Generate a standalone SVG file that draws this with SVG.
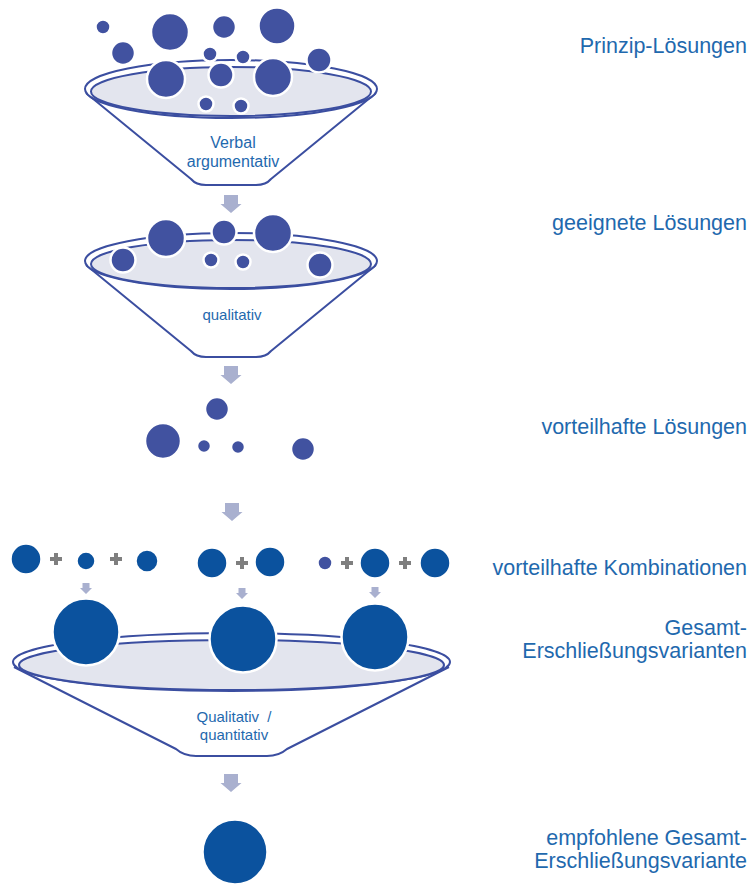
<svg xmlns="http://www.w3.org/2000/svg" width="753" height="887" viewBox="0 0 753 887">
<style>
.bg{fill:#ffffff}
.cone{fill:#ffffff;stroke:#3b4ea0;stroke-width:2;stroke-linejoin:round}
.rimo{fill:#ffffff;stroke:#3b4ea0;stroke-width:2}
.rimi{fill:#e3e5ee;stroke:#3b4ea0;stroke-width:2}
.b{fill:#4152a0;stroke:#ffffff;stroke-width:2.5}
.d{fill:#0b529e;stroke:#ffffff;stroke-width:2.5}
.ft{font-family:"Liberation Sans",Arial,sans-serif;font-size:15px;fill:#1f69ae;text-anchor:middle}
.ft16{font-size:16px}
.lb{font-family:"Liberation Sans",Arial,sans-serif;font-size:21.5px;fill:#1f69ae;text-anchor:end}
.ar{fill:#a9b0cf}
.pl{fill:#7f7f7f}
</style>
<defs>
<path id="bigArrow" d="M -7,0 L 7,0 L 7,9 L 10.5,9 L 0,18 L -10.5,9 L -7,9 Z"/>
<path id="smallArrow" d="M -3.5,0 L 3.5,0 L 3.5,5 L 6,5 L 0,11 L -6,5 L -3.5,5 Z"/>
<path id="plus" d="M -2,-6 L 2,-6 L 2,-2 L 6,-2 L 6,2 L 2,2 L 2,6 L -2,6 L -2,2 L -6,2 L -6,-2 L -2,-2 Z"/>
</defs>
<rect class="bg" x="0" y="0" width="753" height="887"/>

<g id="funnel1">
<path class="cone" d="M 86,93 L 191,179 Q 196,185 206,185 L 256,185 Q 266,185 271,179 L 376,93"/>
<ellipse class="rimo" cx="231" cy="89" rx="146" ry="29"/>
<ellipse class="rimi" cx="231" cy="91.5" rx="140" ry="24.5"/>
<text class="ft ft16" x="233" y="148">Verbal</text>
<text class="ft ft16" x="233" y="167">argumentativ</text>
</g>

<g id="prinzip-loesungen">
<circle class="b" cx="103" cy="27" r="7.5"/>
<circle class="b" cx="170" cy="32" r="19"/>
<circle class="b" cx="224" cy="27" r="12"/>
<circle class="b" cx="277" cy="26" r="18.5"/>
<circle class="b" cx="123" cy="53" r="12"/>
<circle class="b" cx="210" cy="54" r="7.5"/>
<circle class="b" cx="243" cy="57" r="7.5"/>
<circle class="b" cx="319" cy="60" r="12.5"/>
<circle class="b" cx="166" cy="79" r="19"/>
<circle class="b" cx="221" cy="75" r="12.5"/>
<circle class="b" cx="273" cy="77" r="19"/>
<circle class="b" cx="206" cy="104" r="7.5"/>
<circle class="b" cx="241" cy="106" r="7.5"/>
</g>

<g id="funnel2">
<path class="cone" d="M 86,265 L 191,351 Q 196,357 206,357 L 256,357 Q 266,357 271,351 L 376,265"/>
<ellipse class="rimo" cx="231" cy="261" rx="146" ry="28"/>
<ellipse class="rimi" cx="231" cy="264" rx="140" ry="24"/>
<text class="ft" x="232" y="320">qualitativ</text>
</g>

<g id="geeignete-loesungen">
<circle class="b" cx="166" cy="238" r="19"/>
<circle class="b" cx="224" cy="232" r="12.5"/>
<circle class="b" cx="273" cy="233" r="19"/>
<circle class="b" cx="123" cy="260" r="12.5"/>
<circle class="b" cx="211" cy="260" r="7.5"/>
<circle class="b" cx="243" cy="262" r="7.5"/>
<circle class="b" cx="320" cy="265" r="12.5"/>
</g>

<g id="vorteilhafte-loesungen">
<circle class="b" cx="217" cy="409" r="12"/>
<circle class="b" cx="163" cy="441" r="18"/>
<circle class="b" cx="204" cy="446" r="7"/>
<circle class="b" cx="238" cy="447" r="7"/>
<circle class="b" cx="303" cy="449" r="12"/>
</g>

<g id="kombinationen">
<circle class="d" cx="26" cy="559" r="15.5"/>
<use href="#plus" class="pl" x="56" y="559"/>
<circle class="d" cx="86" cy="561" r="9.5"/>
<use href="#plus" class="pl" x="116" y="559"/>
<circle class="d" cx="147" cy="561" r="11.5"/>
<circle class="d" cx="212" cy="563" r="15.5"/>
<use href="#plus" class="pl" x="242" y="563"/>
<circle class="d" cx="270" cy="562" r="15.5"/>
<circle class="b" cx="325" cy="563" r="7.5"/>
<use href="#plus" class="pl" x="347" y="563"/>
<circle class="d" cx="375" cy="563" r="15.5"/>
<use href="#plus" class="pl" x="405" y="563"/>
<circle class="d" cx="435" cy="563" r="15.5"/>
</g>

<g id="funnel3">
<path class="cone" d="M 14,667 L 176,749 Q 184,756 196,756 L 267,756 Q 279,756 287,749 L 449,667"/>
<ellipse class="rimo" cx="231.5" cy="662" rx="218.5" ry="29"/>
<ellipse class="rimi" cx="231.5" cy="665" rx="212.5" ry="25"/>
<text class="ft" x="234" y="722" xml:space="preserve">Qualitativ  /</text>
<text class="ft" x="234" y="740">quantitativ</text>
</g>

<g id="gesamt-varianten">
<circle class="d" cx="86" cy="632" r="33.5"/>
<circle class="d" cx="243" cy="639" r="33.5"/>
<circle class="d" cx="375" cy="637" r="33.5"/>
</g>

<g id="empfohlene-variante">
<circle class="d" cx="235" cy="852" r="32.5"/>
</g>

<g id="connectors">
<use href="#bigArrow" class="ar" x="231" y="195"/>
<use href="#bigArrow" class="ar" x="231" y="366"/>
<use href="#bigArrow" class="ar" x="232" y="503"/>
<use href="#bigArrow" class="ar" x="231" y="774"/>
<use href="#smallArrow" class="ar" x="86" y="583"/>
<use href="#smallArrow" class="ar" x="242" y="588"/>
<use href="#smallArrow" class="ar" x="375" y="587"/>
</g>

<g id="labels">
<text class="lb" x="747" y="53">Prinzip-Lösungen</text>
<text class="lb" x="747" y="230">geeignete Lösungen</text>
<text class="lb" x="747" y="434">vorteilhafte Lösungen</text>
<text class="lb" x="747" y="575">vorteilhafte Kombinationen</text>
<text class="lb" x="747" y="635">Gesamt-</text>
<text class="lb" x="747" y="658">Erschließungsvarianten</text>
<text class="lb" x="747" y="845">empfohlene Gesamt-</text>
<text class="lb" x="747" y="868">Erschließungsvariante</text>
</g>
</svg>
